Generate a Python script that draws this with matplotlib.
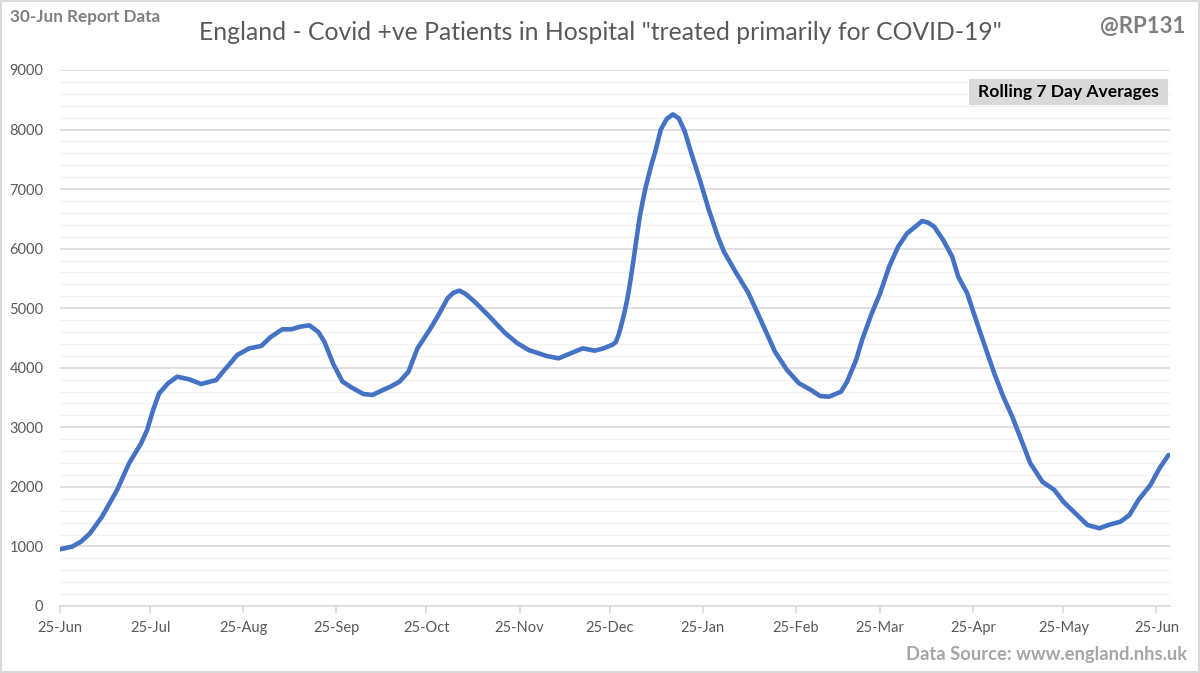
import datetime as dt
import matplotlib
matplotlib.use("Agg")
import matplotlib.pyplot as plt
import matplotlib.dates as mdates
from matplotlib.patches import Rectangle

# ---- data ----
start_date = dt.date(2021, 6, 25)
day_offsets = [0, 4, 7, 10, 14, 19, 23, 27, 29, 31, 33, 36, 39, 43, 47, 52, 54, 59, 63, 67, 70,
               74, 77, 80, 83, 86, 88, 91, 94, 97, 101, 104, 108, 110, 113, 116, 119, 123, 126,
               129, 131, 133, 135, 138, 143, 148, 152, 156, 162, 166, 170, 174, 178, 181, 184,
               185, 186, 187, 188, 189, 190, 191, 192, 193, 194, 195, 197, 198, 200, 202, 204,
               206, 208, 210, 213, 216, 219, 221, 225, 229, 232, 235, 238, 242, 246, 250, 253,
               256, 260, 262, 265, 267, 270, 273, 276, 279, 282, 285, 287, 289, 291, 294, 297,
               299, 302, 304, 307, 311, 314, 317, 320, 323, 327, 331, 334, 338, 342, 346, 349,
               353, 356, 359, 363, 366, 369]
patients = [952, 996, 1080, 1220, 1500, 1948, 2396, 2732, 2955, 3291, 3571, 3739, 3850, 3806,
            3727, 3794, 3917, 4214, 4326, 4365, 4511, 4646, 4646, 4690, 4713, 4600, 4438, 4060,
            3770, 3670, 3559, 3543, 3638, 3682, 3766, 3934, 4326, 4634, 4886, 5166, 5260, 5295,
            5240, 5110, 4858, 4590, 4421, 4298, 4197, 4158, 4242, 4326, 4287, 4326, 4390, 4430,
            4560, 4746, 4950, 5194, 5500, 5840, 6200, 6537, 6800, 7040, 7432, 7600, 8000, 8180,
            8255, 8188, 7964, 7628, 7153, 6649, 6201, 5950, 5600, 5270, 4942, 4606, 4270, 3962,
            3739, 3626, 3526, 3514, 3598, 3766, 4130, 4466, 4886, 5250, 5697, 6033, 6258, 6380,
            6464, 6436, 6369, 6145, 5865, 5530, 5250, 4942, 4494, 3906, 3514, 3178, 2787, 2396,
            2087, 1948, 1751, 1556, 1360, 1304, 1360, 1415, 1528, 1780, 2032, 2312, 2535]
tick_labels = ["25-Jun", "25-Jul", "25-Aug", "25-Sep", "25-Oct", "25-Nov", "25-Dec",
               "25-Jan", "25-Feb", "25-Mar", "25-Apr", "25-May", "25-Jun"]
tick_years = [2021, 2021, 2021, 2021, 2021, 2021, 2021, 2022, 2022, 2022, 2022, 2022, 2022]

plt.rcParams['font.family'] = ['Lato', 'DejaVu Sans']

dates = [start_date + dt.timedelta(days=d) for d in day_offsets]
tick_dates = [dt.datetime.strptime(f"{lab}-{y}", "%d-%b-%Y").date()
              for lab, y in zip(tick_labels, tick_years)]

fig = plt.figure(figsize=(12, 6.73), dpi=100)
ax = fig.add_axes([0.05, 0.0996, 0.925, 0.7964])

ax.plot(dates, patients, color="#4472C4", linewidth=3.3, solid_capstyle="round",
        solid_joinstyle="round", zorder=3)

ax.set_ylim(0, 9000)
ax.set_xlim(mdates.date2num(start_date), mdates.date2num(start_date) + 369.5)
ax.set_yticks(range(0, 9001, 1000))
ax.set_yticks(range(0, 9001, 200), minor=True)
ax.set_xticks(tick_dates)
ax.set_xticklabels(tick_labels)

ax.grid(axis="y", which="major", color="#D9D9D9", linewidth=1.2, zorder=0)
ax.grid(axis="y", which="minor", color="#F2F2F2", linewidth=1.0, zorder=0)
ax.set_axisbelow(True)

for s in ["top", "right", "left"]:
    ax.spines[s].set_visible(False)
ax.spines["bottom"].set_color("#D9D9D9")
ax.spines["bottom"].set_linewidth(1.2)

ax.tick_params(axis="y", which="both", length=0, labelsize=10.5, labelcolor="#595959", pad=12)
ax.tick_params(axis="x", which="major", length=5, width=1.2, color="#D9D9D9",
               labelsize=10.5, labelcolor="#595959", pad=6)
ax.tick_params(axis="x", which="minor", length=0)

# texts
fig.text(0.5, 0.951, 'England - Covid +ve Patients in Hospital "treated primarily for COVID-19"',
         ha="center", va="center", fontsize=17.8, color="#595959")
fig.text(0.008, 0.974, "30-Jun Report Data", ha="left", va="center", fontsize=12.3,
         fontweight="bold", color="#7F7F7F")
fig.text(0.988, 0.96, "@RP131", ha="right", va="center", fontsize=16,
         fontweight="bold", color="#7F7F7F")
fig.text(0.989, 0.027, "Data Source: www.england.nhs.uk", ha="right", va="center",
         fontsize=13.2, fontweight="bold", color="#A6A6A6")

# "Rolling 7 Day Averages" box
fig.patches.append(Rectangle((969 / 1200, 1 - 105 / 673), 199 / 1200, 26 / 673,
                             transform=fig.transFigure, facecolor="#D9D9D9",
                             edgecolor="none", zorder=5))
fig.text(1068.5 / 1200, 1 - 92 / 673, "Rolling 7 Day Averages", ha="center", va="center",
         fontsize=12.6, fontweight="bold", color="#000000", zorder=6)

# outer border
fig.patches.append(Rectangle((0.001, 0.0015), 0.998, 0.997, transform=fig.transFigure,
                             facecolor="none", edgecolor="#D9D9D9", linewidth=1.5))

fig.savefig("out.png", dpi=100)
